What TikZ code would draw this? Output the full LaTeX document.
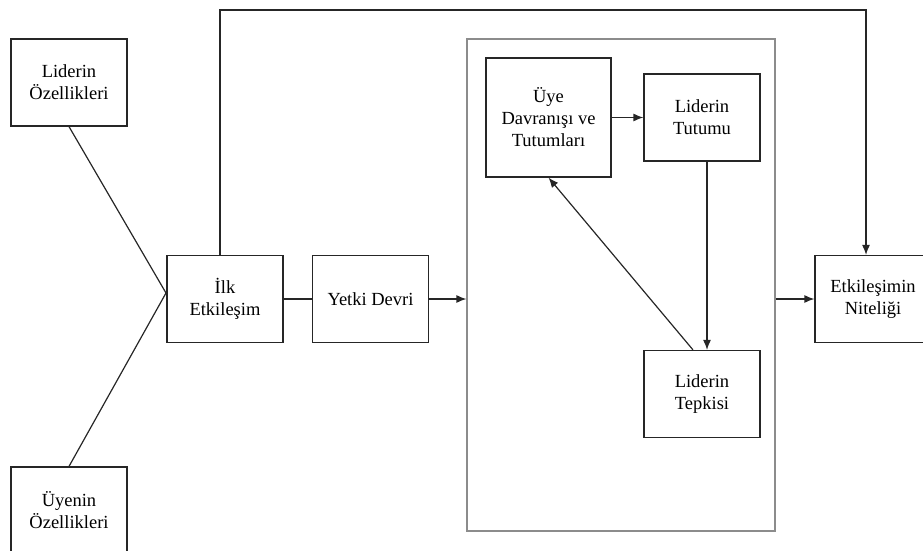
\documentclass[tikz,border=0pt]{standalone}
\usepackage{fontspec}
\setmainfont{Liberation Serif}
\usepackage{tikz}
\usetikzlibrary{positioning, arrows.meta, calc}

\tikzset{
    kutu/.style={draw=black!85, line width=1.2pt, fill=white, align=center,
        minimum width=116pt, minimum height=87pt, inner sep=0pt,
        font=\fontsize{18.5}{22}\selectfont},
    ok/.style={draw=black!85, line width=1.2pt, -{Latex[length=10pt,width=8pt]}},
    hat/.style={draw=black!85, line width=1.2pt}
}

\begin{document}
\begin{tikzpicture}[x=1pt, y=-1pt]
        \useasboundingbox (0,0) rectangle (923,551);

        \node[draw=black!45, line width=1.2pt, minimum width=308pt, minimum height=492pt] (cerceve) at (621,285) {};

        \node[kutu] (lo) at (69,82.5) {Liderin\\Özellikleri};
        \node[kutu, below of=lo, node distance=428pt] (uo) {Üyenin\\Özellikleri};
        \node[kutu] (ilk) at (225,299) {İlk\\Etkileşim};
        \node[kutu, right of=ilk, node distance=145.5pt] (yetki) {Yetki Devri};
        \node[kutu, minimum width=125pt, minimum height=119pt] (uye) at (548.5,117.5) {Üye\\Davranışı ve\\Tutumları};
        \node[kutu] (tutum) at (702,117.5) {Liderin\\Tutumu};
        \node[kutu, below of=tutum, node distance=276.5pt] (tepki) {Liderin\\Tepkisi};
        \node[kutu] (nitelik) at (873,299) {Etkileşimin\\Niteliği};

        \coordinate (kv) at (166,293);
        \coordinate (ust1) at (220,10);
        \coordinate (ust2) at (866,10);

        \draw[hat] (lo.south) -- (kv) -- (uo.north);
        \draw[hat] (ilk.east) -- (yetki.west);
        \draw[ok] (yetki.east) -- (yetki.east -| cerceve.west);
        \draw[ok] (uye.east) -- (tutum.west);
        \draw[ok] ([xshift=5pt]tutum.south) -- ([xshift=5pt]tepki.north);
        \draw[ok] ([xshift=-9pt]tepki.north) -- (uye.south);
        \draw[ok] (cerceve.east |- nitelik.west) -- (nitelik.west);
        \draw[ok] (ilk.north -| ust1) -- (ust1) -- (ust2) -- (ust2 |- nitelik.north);
    \end{tikzpicture}
\end{document}
